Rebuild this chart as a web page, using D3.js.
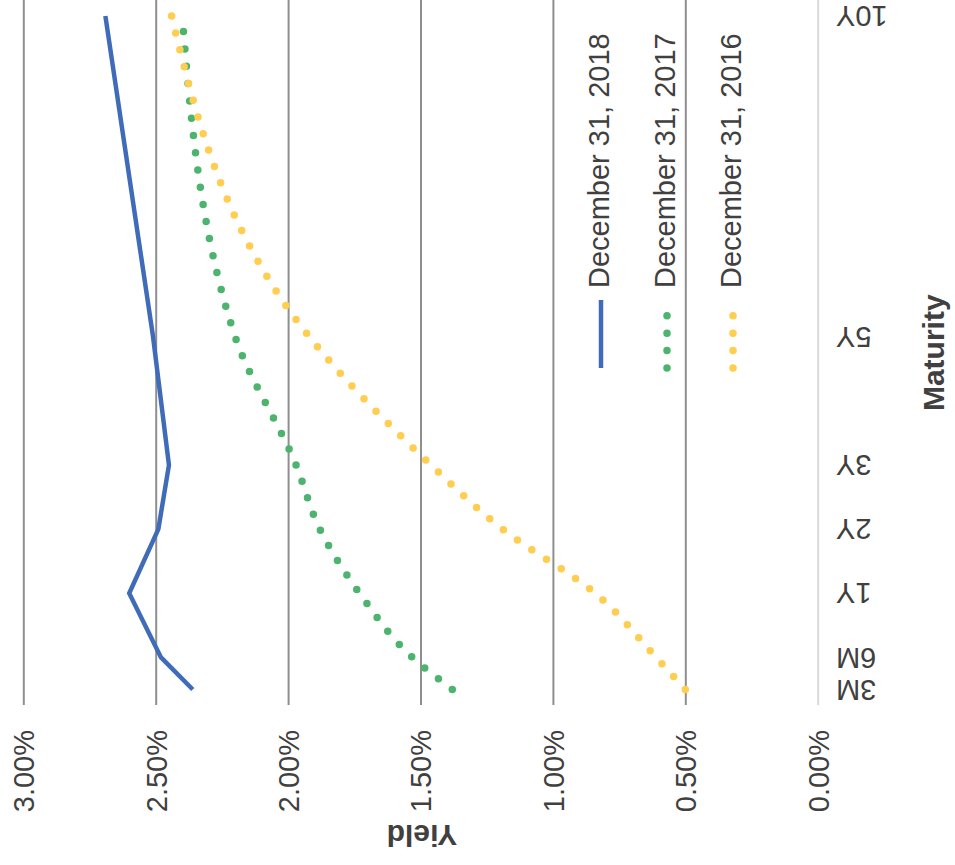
<!DOCTYPE html>
<html>
<head>
<meta charset="utf-8">
<script src="https://cdn.jsdelivr.net/npm/d3@7"></script>
<style>
  html, body { margin: 0; padding: 0; background: #ffffff; }
  svg { display: block; }
</style>
</head>
<body>
<div id="chart"></div>
<script>
// ---------- data ----------
const maturities = ["3M", "6M", "1Y", "2Y", "3Y", "5Y", "10Y"];
const maturityYears = [0.25, 0.5, 1, 2, 3, 5, 10];
const seriesNames = ["December 31, 2018", "December 31, 2017", "December 31, 2016"];
const yields2018 = [2.36, 2.48, 2.60, 2.49, 2.45, 2.51, 2.69];
const yields2017 = [1.38, 1.53, 1.73, 1.88, 1.97, 2.20, 2.40];
const yields2016 = [0.50, 0.61, 0.84, 1.19, 1.46, 1.92, 2.44];
const yieldTicks = [0, 0.5, 1, 1.5, 2, 2.5, 3];
const seriesColors = ["#3f6bb8", "#4cb46e", "#ffcd4f"];

// ---------- setup ----------
const W = 955, H = 865;
const FONT = "'Liberation Sans', Arial, sans-serif";
const TXT = "#404040";

const svg = d3.select("#chart").append("svg")
  .attr("width", W).attr("height", H)
  .attr("font-family", FONT);

svg.append("rect").attr("width", W).attr("height", H).attr("fill", "#fff");

// chart is laid out rotated: yield runs right-to-left, maturity bottom-to-top
const xYield = d3.scaleLinear().domain([0, 3]).range([817.7, 23.3]);
const yMat = d3.scaleLinear().domain([0.25, 1, 10]).range([689.5, 593.3, 16]);

// ---------- yield axis with gridlines ----------
const gridBottom = 705;
const gx = svg.append("g")
  .attr("transform", `translate(0,${gridBottom})`)
  .call(d3.axisTop(xYield)
    .tickValues(yieldTicks)
    .tickSize(gridBottom)
    .tickFormat(d => d.toFixed(2) + "%"));
gx.select(".domain").remove();
gx.attr("font-family", FONT).attr("font-size", 29);
gx.selectAll(".tick line")
  .attr("stroke", d => d === 0 ? "#d9d9d9" : "#8f8f8f")
  .attr("stroke-width", 2);
gx.selectAll(".tick text")
  .attr("x", 0).attr("y", 0).attr("dy", null)
  .attr("fill", TXT)
  .attr("text-anchor", "end")
  .attr("transform", "translate(10.3,25) rotate(-90)");

// ---------- maturity axis (labels upside down) ----------
const gy = svg.append("g")
  .attr("transform", "translate(836,0)")
  .call(d3.axisRight(yMat)
    .tickValues(maturityYears)
    .tickSize(0)
    .tickFormat((d, i) => maturities[i]));
gy.select(".domain").remove();
gy.selectAll(".tick line").remove();
gy.attr("font-family", FONT).attr("font-size", 29);
gy.selectAll(".tick text")
  .attr("x", 0).attr("y", 0).attr("dy", null)
  .attr("fill", TXT)
  .attr("text-anchor", "end")
  .attr("transform", "translate(0,-10.4) rotate(180)");

// ---------- axis titles ----------
svg.append("text")
  .attr("transform", `translate(${(xYield(0) + xYield(3)) / 2 + 1.5},825) rotate(180)`)
  .attr("text-anchor", "middle")
  .attr("font-size", 30).attr("font-weight", "bold")
  .attr("fill", TXT)
  .text("Yield");

svg.append("text")
  .attr("transform", `translate(944,${(yMat(0.25) + yMat(10)) / 2}) rotate(-90)`)
  .attr("text-anchor", "middle")
  .attr("font-size", 30).attr("font-weight", "bold")
  .attr("fill", TXT)
  .text("Maturity");

// ---------- series ----------
const toPts = arr => arr.map((v, i) => ({ m: maturityYears[i], v }));
const allSeries = [yields2018, yields2017, yields2016].map(toPts);

const lineStraight = d3.line().x(d => xYield(d.v)).y(d => yMat(d.m));
const lineSmooth = d3.line().x(d => xYield(d.v)).y(d => yMat(d.m)).curve(d3.curveMonotoneY);

const DOT = { width: 7.5, dash: "0 17.4" };

allSeries.forEach((pts, i) => {
  const p = svg.append("path")
    .attr("d", i === 0 ? lineStraight(pts) : lineSmooth(pts))
    .attr("fill", "none")
    .attr("stroke", seriesColors[i]);
  if (i === 0) {
    p.attr("stroke-width", 4.5).attr("stroke-linejoin", "miter");
  } else {
    p.attr("stroke-width", DOT.width)
     .attr("stroke-dasharray", DOT.dash)
     .attr("stroke-linecap", "round");
  }
});

// ---------- legend ----------
const legend = svg.append("g");
seriesNames.forEach((name, i) => {
  const cx = 601 + i * 66;
  const seg = legend.append("path")
    .attr("d", d3.line()([[cx, 368], [cx, 300]]))
    .attr("fill", "none")
    .attr("stroke", seriesColors[i]);
  if (i === 0) {
    seg.attr("stroke-width", 4.5);
  } else {
    seg.attr("stroke-width", DOT.width)
       .attr("stroke-dasharray", DOT.dash)
       .attr("stroke-linecap", "round");
  }
  legend.append("text")
    .attr("transform", `translate(${cx + 8},288) rotate(-90)`)
    .attr("font-size", 29)
    .attr("fill", TXT)
    .text(name);
});
</script>
</body>
</html>
